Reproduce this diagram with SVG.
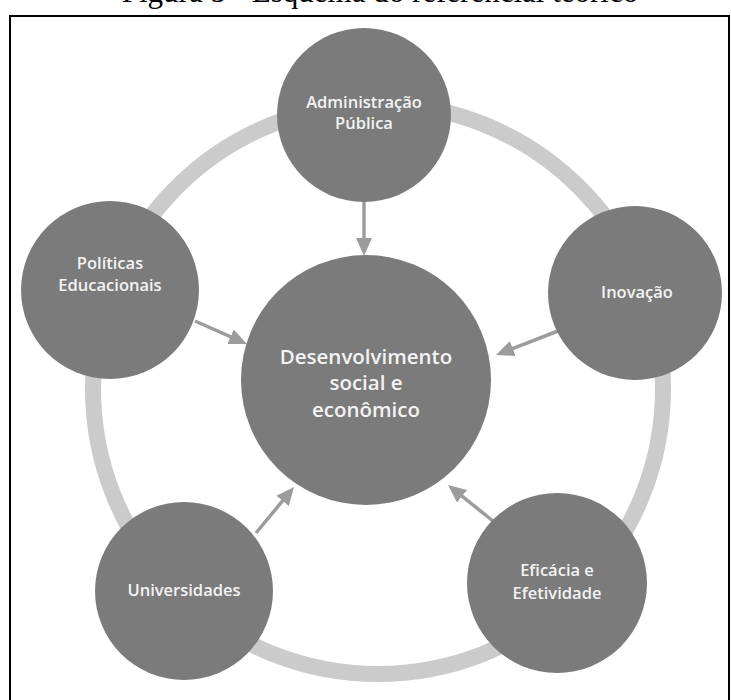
<svg xmlns="http://www.w3.org/2000/svg" width="731" height="700" viewBox="0 0 731 700">
<style>
.node{fill:#7b7b7b}
.lbl{font-family:"Open Sans","Liberation Sans",sans-serif;font-weight:600;font-size:16.5px;fill:#f3f3f3;text-anchor:middle}
.big{font-size:20.5px;font-weight:600}
.conn{stroke:#9c9c9c;stroke-width:3.5;fill:none;marker-end:url(#ah)}
</style>
<defs>
<marker id="ah" markerUnits="userSpaceOnUse" markerWidth="18" markerHeight="18" viewBox="0 0 18 18" refX="12" refY="9" orient="auto">
<path d="M0,1 L18,9 L0,17 z" fill="#9c9c9c"/>
</marker>
</defs>
<rect width="731" height="700" fill="#fff"/>
<text x="380" y="2" font-family="'Liberation Serif',serif" font-size="31" text-anchor="middle" fill="#000">Figura 5 - Esquema do referencial teórico</text>
<path d="M10 702 V16 H729 V702" fill="none" stroke="#000" stroke-width="2"/>
<circle id="ring" cx="378" cy="389" r="285" fill="none" stroke="#cbcbcb" stroke-width="16"/>
<g id="connectors">
<line class="conn" x1="364" y1="196" x2="364" y2="250"/>
<line class="conn" x1="195" y1="321" x2="241.5" y2="341.6"/>
<line class="conn" x1="558" y1="331" x2="501.6" y2="352.8"/>
<line class="conn" x1="256" y1="533" x2="290.2" y2="491.6"/>
<line class="conn" x1="493" y1="521" x2="452.7" y2="488.7"/>
</g>
<g id="n-admin"><circle class="node" cx="364" cy="115" r="87"/>
<text class="lbl" x="364" y="108">Administração</text><text class="lbl" x="364" y="129">Pública</text></g>
<g id="n-politicas"><circle class="node" cx="110" cy="290" r="89"/>
<text class="lbl" x="110" y="269">Políticas</text><text class="lbl" x="110" y="291">Educacionais</text></g>
<g id="n-inovacao"><circle class="node" cx="635" cy="293" r="87"/>
<text class="lbl" x="637" y="298">Inovação</text></g>
<g id="n-univ"><circle class="node" cx="184" cy="591" r="89"/>
<text class="lbl" x="184" y="596">Universidades</text></g>
<g id="n-eficacia"><circle class="node" cx="557" cy="583" r="90"/>
<text class="lbl" x="557" y="576">Eficácia e</text><text class="lbl" x="557" y="599">Efetividade</text></g>
<g id="n-centro"><circle class="node" cx="366" cy="380" r="125"/>
<text class="lbl big" x="366" y="364">Desenvolvimento</text><text class="lbl big" x="366" y="390">social e</text><text class="lbl big" x="366" y="417">econômico</text></g>
</svg>
